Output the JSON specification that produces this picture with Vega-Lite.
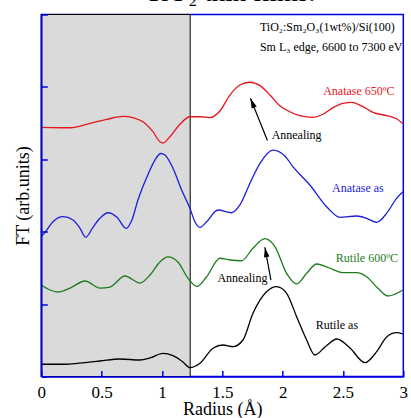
{
 "$schema": "https://vega.github.io/schema/vega-lite/v6.json",
 "width": 362, "height": 362,
 "autosize": {"type": "none"},
 "padding": {"left": 41.3, "top": 14.5, "right": 7.7, "bottom": 41.5},
 "title": {"text": "TiO₂ thin films.", "font": "Liberation Serif", "fontSize": 27, "fontWeight": "normal", "color": "black", "anchor": "middle", "baseline": "alphabetic", "offset": -14, "dx": 8},
 "config": {"view": {"stroke": "#0000e0", "strokeWidth": 1.5}, "font": "Liberation Serif"},
 "datasets": {
  "shade": [{"x": 0, "x2": 1.234, "y": 0, "y2": 5}],
  "curves": [
   {"s":"Anatase 650ºC","x":0,"y":3.442},{"s":"Anatase 650ºC","x":0.238,"y":3.436},{"s":"Anatase 650ºC","x":0.404,"y":3.497},{"s":"Anatase 650ºC","x":0.542,"y":3.552},{"s":"Anatase 650ºC","x":0.677,"y":3.594},{"s":"Anatase 650ºC","x":0.76,"y":3.575},{"s":"Anatase 650ºC","x":0.842,"y":3.519},{"s":"Anatase 650ºC","x":0.925,"y":3.381},{"s":"Anatase 650ºC","x":0.983,"y":3.243},{"s":"Anatase 650ºC","x":1.008,"y":3.225},{"s":"Anatase 650ºC","x":1.066,"y":3.312},{"s":"Anatase 650ºC","x":1.149,"y":3.483},{"s":"Anatase 650ºC","x":1.232,"y":3.588},{"s":"Anatase 650ºC","x":1.315,"y":3.588},{"s":"Anatase 650ºC","x":1.398,"y":3.575},{"s":"Anatase 650ºC","x":1.48,"y":3.667},{"s":"Anatase 650ºC","x":1.563,"y":3.887},{"s":"Anatase 650ºC","x":1.646,"y":4.026},{"s":"Anatase 650ºC","x":1.729,"y":4.064},{"s":"Anatase 650ºC","x":1.812,"y":4.017},{"s":"Anatase 650ºC","x":1.895,"y":3.887},{"s":"Anatase 650ºC","x":1.977,"y":3.74},{"s":"Anatase 650ºC","x":2.06,"y":3.657},{"s":"Anatase 650ºC","x":2.143,"y":3.602},{"s":"Anatase 650ºC","x":2.251,"y":3.58},{"s":"Anatase 650ºC","x":2.334,"y":3.622},{"s":"Anatase 650ºC","x":2.417,"y":3.713},{"s":"Anatase 650ºC","x":2.499,"y":3.773},{"s":"Anatase 650ºC","x":2.574,"y":3.787},{"s":"Anatase 650ºC","x":2.665,"y":3.727},{"s":"Anatase 650ºC","x":2.748,"y":3.649},{"s":"Anatase 650ºC","x":2.864,"y":3.602},{"s":"Anatase 650ºC","x":2.947,"y":3.557},{"s":"Anatase 650ºC","x":3.0,"y":3.488},
   {"s":"Anatase as","x":0,"y":1.931},{"s":"Anatase as","x":0.045,"y":2.023},{"s":"Anatase as","x":0.097,"y":2.138},{"s":"Anatase as","x":0.18,"y":2.207},{"s":"Anatase as","x":0.263,"y":2.162},{"s":"Anatase as","x":0.321,"y":2.047},{"s":"Anatase as","x":0.368,"y":1.923},{"s":"Anatase as","x":0.428,"y":2.061},{"s":"Anatase as","x":0.486,"y":2.185},{"s":"Anatase as","x":0.553,"y":2.262},{"s":"Anatase as","x":0.628,"y":2.199},{"s":"Anatase as","x":0.702,"y":2.047},{"s":"Anatase as","x":0.751,"y":2.162},{"s":"Anatase as","x":0.801,"y":2.438},{"s":"Anatase as","x":0.876,"y":2.76},{"s":"Anatase as","x":0.942,"y":2.99},{"s":"Anatase as","x":0.99,"y":3.08},{"s":"Anatase as","x":1.025,"y":3.059},{"s":"Anatase as","x":1.091,"y":2.876},{"s":"Anatase as","x":1.163,"y":2.576},{"s":"Anatase as","x":1.232,"y":2.323},{"s":"Anatase as","x":1.273,"y":2.138},{"s":"Anatase as","x":1.315,"y":2.061},{"s":"Anatase as","x":1.37,"y":2.138},{"s":"Anatase as","x":1.464,"y":2.3},{"s":"Anatase as","x":1.577,"y":2.262},{"s":"Anatase as","x":1.646,"y":2.369},{"s":"Anatase as","x":1.729,"y":2.669},{"s":"Anatase as","x":1.812,"y":2.945},{"s":"Anatase as","x":1.92,"y":3.128},{"s":"Anatase as","x":2.019,"y":3.046},{"s":"Anatase as","x":2.085,"y":2.898},{"s":"Anatase as","x":2.226,"y":2.645},{"s":"Anatase as","x":2.365,"y":2.345},{"s":"Anatase as","x":2.475,"y":2.199},{"s":"Anatase as","x":2.613,"y":2.217},{"s":"Anatase as","x":2.696,"y":2.185},{"s":"Anatase as","x":2.779,"y":2.13},{"s":"Anatase as","x":2.862,"y":2.254},{"s":"Anatase as","x":2.944,"y":2.461},{"s":"Anatase as","x":2.997,"y":2.552},
   {"s":"Rutile 600ºC","x":0,"y":1.264},{"s":"Rutile 600ºC","x":0.072,"y":1.195},{"s":"Rutile 600ºC","x":0.138,"y":1.167},{"s":"Rutile 600ºC","x":0.238,"y":1.222},{"s":"Rutile 600ºC","x":0.362,"y":1.319},{"s":"Rutile 600ºC","x":0.486,"y":1.222},{"s":"Rutile 600ºC","x":0.569,"y":1.236},{"s":"Rutile 600ºC","x":0.693,"y":1.388},{"s":"Rutile 600ºC","x":0.818,"y":1.291},{"s":"Rutile 600ºC","x":0.901,"y":1.402},{"s":"Rutile 600ºC","x":0.983,"y":1.582},{"s":"Rutile 600ºC","x":1.049,"y":1.651},{"s":"Rutile 600ºC","x":1.132,"y":1.582},{"s":"Rutile 600ºC","x":1.215,"y":1.36},{"s":"Rutile 600ºC","x":1.29,"y":1.245},{"s":"Rutile 600ºC","x":1.37,"y":1.378},{"s":"Rutile 600ºC","x":1.48,"y":1.633},{"s":"Rutile 600ºC","x":1.563,"y":1.609},{"s":"Rutile 600ºC","x":1.66,"y":1.599},{"s":"Rutile 600ºC","x":1.754,"y":1.771},{"s":"Rutile 600ºC","x":1.853,"y":1.903},{"s":"Rutile 600ºC","x":1.936,"y":1.793},{"s":"Rutile 600ºC","x":2.033,"y":1.425},{"s":"Rutile 600ºC","x":2.116,"y":1.278},{"s":"Rutile 600ºC","x":2.199,"y":1.425},{"s":"Rutile 600ºC","x":2.282,"y":1.554},{"s":"Rutile 600ºC","x":2.375,"y":1.508},{"s":"Rutile 600ºC","x":2.5,"y":1.434},{"s":"Rutile 600ºC","x":2.613,"y":1.434},{"s":"Rutile 600ºC","x":2.696,"y":1.378},{"s":"Rutile 600ºC","x":2.79,"y":1.218},{"s":"Rutile 600ºC","x":2.872,"y":1.112},{"s":"Rutile 600ºC","x":2.972,"y":1.171},{"s":"Rutile 600ºC","x":2.997,"y":1.195},
   {"s":"Rutile as","x":0,"y":0.169},{"s":"Rutile as","x":0.21,"y":0.169},{"s":"Rutile as","x":0.362,"y":0.193},{"s":"Rutile as","x":0.486,"y":0.214},{"s":"Rutile as","x":0.652,"y":0.242},{"s":"Rutile as","x":0.818,"y":0.228},{"s":"Rutile as","x":0.901,"y":0.256},{"s":"Rutile as","x":1.008,"y":0.32},{"s":"Rutile as","x":1.091,"y":0.287},{"s":"Rutile as","x":1.174,"y":0.2},{"s":"Rutile as","x":1.232,"y":0.122},{"s":"Rutile as","x":1.315,"y":0.182},{"s":"Rutile as","x":1.423,"y":0.39},{"s":"Rutile as","x":1.506,"y":0.435},{"s":"Rutile as","x":1.589,"y":0.412},{"s":"Rutile as","x":1.671,"y":0.504},{"s":"Rutile as","x":1.754,"y":0.873},{"s":"Rutile as","x":1.867,"y":1.171},{"s":"Rutile as","x":1.95,"y":1.24},{"s":"Rutile as","x":2.033,"y":1.149},{"s":"Rutile as","x":2.116,"y":0.826},{"s":"Rutile as","x":2.199,"y":0.504},{"s":"Rutile as","x":2.268,"y":0.297},{"s":"Rutile as","x":2.351,"y":0.407},{"s":"Rutile as","x":2.45,"y":0.518},{"s":"Rutile as","x":2.558,"y":0.394},{"s":"Rutile as","x":2.682,"y":0.191},{"s":"Rutile as","x":2.779,"y":0.343},{"s":"Rutile as","x":2.862,"y":0.546},{"s":"Rutile as","x":2.944,"y":0.605},{"s":"Rutile as","x":2.997,"y":0.587}
  ],
  "labels": [
   {"s":"Anatase 650ºC","x":2.632,"y":3.943},
   {"s":"Anatase as","x":2.624,"y":2.604},
   {"s":"Rutile 600ºC","x":2.698,"y":1.637},
   {"s":"Rutile as","x":2.45,"y":0.711}
  ],
  "header": [
   {"t":"TiO₂:Sm₂O₃(1wt%)/Si(100)","x":1.812,"y":4.827},
   {"t":"Sm L₃ edge, 6600 to 7300 eV","x":1.812,"y":4.551}
  ],
  "notes": [
   {"t":"Annealing","x":2.116,"y":3.329},
   {"t":"Annealing","x":1.667,"y":1.36}
  ],
  "arrows": [
   {"a":"upper","x":1.874,"y":3.26,"x2":1.733,"y2":3.843},
   {"a":"lower","x":1.903,"y":1.33,"x2":1.853,"y2":1.785}
  ]
 },
 "encoding": {
  "x": {"field": "x", "type": "quantitative",
        "scale": {"domain": [0, 3], "nice": false, "zero": false},
        "axis": {"values": [0, 0.5, 1, 1.5, 2, 2.5, 3], "format": "~g", "title": "Radius (Å)", "grid": false,
                 "domainColor": "#0000e0", "domainWidth": 1.5, "tickColor": "#0000e0", "tickWidth": 1.5, "tickSize": -6,
                 "labelPadding": 26.5, "labelBaseline": "alphabetic", "labelFlush": false, "labelOverlap": false, "labelBound": false,
                 "labelFont": "Liberation Serif", "labelFontSize": 17, "labelColor": "black",
                 "titleFont": "Liberation Serif", "titleFontSize": 18, "titleFontWeight": "normal", "titleColor": "black",
                 "titleBaseline": "alphabetic", "titleY": 38, "zindex": 1}},
  "y": {"field": "y", "type": "quantitative",
        "scale": {"domain": [0, 5], "nice": false, "zero": false},
        "axis": {"values": [0, 1, 2, 3, 4, 5], "labels": false, "title": "FT (arb.units)", "grid": false,
                 "domainColor": "#0000e0", "domainWidth": 1.5, "tickColor": "#0000e0", "tickWidth": 1.5, "tickSize": -6,
                 "titleFont": "Liberation Serif", "titleFontSize": 18, "titleFontWeight": "normal", "titleColor": "black",
                 "titleBaseline": "alphabetic", "titleX": -13, "zindex": 1}}
 },
 "layer": [
  {"data": {"name": "shade"}, "mark": {"type": "rect", "fill": "#dadada", "stroke": "black", "strokeWidth": 1},
   "encoding": {"x2": {"field": "x2"}, "y2": {"field": "y2"}}},
  {"data": {"name": "curves"}, "mark": {"type": "line", "interpolate": "monotone", "strokeWidth": 1.3},
   "encoding": {"color": {"field": "s", "type": "nominal", "legend": null,
     "scale": {"domain": ["Anatase 650ºC", "Anatase as", "Rutile 600ºC", "Rutile as"], "range": ["#e8141c", "#1c1cdc", "#1e7b1e", "#000000"]}}}},
  {"data": {"name": "labels"}, "mark": {"type": "text", "font": "Liberation Serif", "fontSize": 12, "align": "center", "baseline": "middle"},
   "encoding": {"text": {"field": "s"}, "color": {"field": "s", "type": "nominal", "legend": null}}},
  {"data": {"name": "header"}, "mark": {"type": "text", "font": "Liberation Serif", "fontSize": 12, "align": "left", "baseline": "middle", "color": "black"},
   "encoding": {"text": {"field": "t"}}},
  {"data": {"name": "notes"}, "mark": {"type": "text", "font": "Liberation Serif", "fontSize": 12, "align": "center", "baseline": "middle", "color": "black"},
   "encoding": {"text": {"field": "t"}}},
  {"data": {"name": "arrows"}, "mark": {"type": "rule", "color": "black", "strokeWidth": 1.2},
   "encoding": {"x2": {"field": "x2"}, "y2": {"field": "y2"}}},
  {"data": {"name": "arrows"}, "transform": [{"filter": "datum.a == 'upper'"}],
   "mark": {"type": "point", "shape": "M0,0L-0.55,2L0.55,2Z", "filled": true, "color": "black", "opacity": 1, "size": 100, "angle": 337.8},
   "encoding": {"x": {"field": "x2", "type": "quantitative"}, "y": {"field": "y2", "type": "quantitative"}}},
  {"data": {"name": "arrows"}, "transform": [{"filter": "datum.a == 'lower'"}],
   "mark": {"type": "point", "shape": "M0,0L-0.55,2L0.55,2Z", "filled": true, "color": "black", "opacity": 1, "size": 100, "angle": 349.6},
   "encoding": {"x": {"field": "x2", "type": "quantitative"}, "y": {"field": "y2", "type": "quantitative"}}}
 ]
}
